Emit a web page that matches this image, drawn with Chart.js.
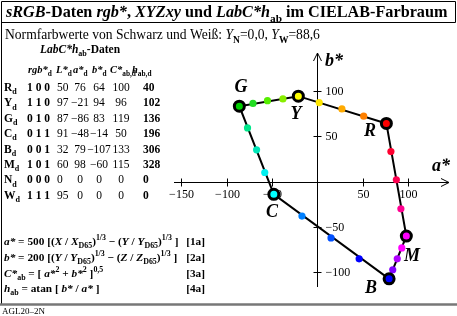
<!DOCTYPE html>
<html><head><meta charset="utf-8">
<script src="https://cdn.jsdelivr.net/npm/chart.js@4.4.0/dist/chart.umd.min.js"></script>
<style>html,body{margin:0;padding:0;background:#fff;overflow:hidden}#wrap{position:relative;width:457px;height:316px}canvas{display:block}</style>
</head><body><div id="wrap"><canvas id="c" width="457" height="316"></canvas></div>
<script>
// ---- data ----
const rowNames = ['R','Y','G','C','B','M','N','W'];
const rowRGB = ['1 0 0','1 1 0','0 1 0','0 1 1','0 0 1','1 0 1','0 0 0','1 1 1'];
const rowL = [50,97,87,91,32,60,0,95];
const rowA = [76,-21,-86,-48,79,98,0,0];
const rowB = [64,94,83,-14,-107,-60,0,0];
const rowC = [100,96,119,50,133,115,0,0];
const rowH = [40,102,136,196,306,328,0,0];

const cornerNames = ['R','Y','G','C','B','M'];
const cornerA = [76,-21,-86,-48,79,98];
const cornerB = [64,94,83,-14,-107,-60];
const cornerColors = ['#ff0000','#ffff00','#00d000','#00ffff','#0000ff','#ff00ff'];

const stepA = [51,27,2, -38,-55,-71, -77,-67,-58, -17,15,46, 83,88,93, 92,87,81];
const stepB = [72,80,87, 91,89,86, 59,35,10, -38,-62,-85, -97,-85,-73, -30,2,33];
const stepColors = ['#ff8000','#ffaa00','#ffe600', '#88ee00','#55ee00','#22dd22',
  '#00e68a','#00e6b8','#00f0f0', '#0080ff','#0050ff','#0000ff',
  '#8000ff','#b000ff','#ff00ff', '#ff0090','#ff0050','#ff0030'];

const aTicks = [-150,-100,-50,50,100];
const bTicks = [100,50,-50,-100];

// ---- helpers ----
const SERIF = '"Liberation Serif","Times New Roman",serif';
function font(size, st){ return (st.includes('i')?'italic ':'')+(st.includes('b')?'bold ':'')+size+'px '+SERIF; }
function rich(ctx, x, y, runs, size){
  ctx.textBaseline='alphabetic'; ctx.textAlign='left';
  for(const [t, st] of runs){
    let s=size, dy=0;
    if(st.includes('sub')){ s=size*0.7; dy=size*0.28; }
    if(st.includes('sup')){ s=size*0.7; dy=-size*0.42; }
    ctx.font=font(s, st); ctx.fillText(t, x, y+dy); x+=ctx.measureText(t).width;
  }
  return x;
}
function fmt(v){ return v<0 ? '\u2212'+(-v) : String(v); }

const pts = (A,B)=>A.map((a,i)=>({x:a,y:B[i]}));
const poly = pts(cornerA, cornerB); poly.push({x:cornerA[0], y:cornerB[0]});

const deco = {
  id:'deco',
  beforeDatasetsDraw(chart){
    const ctx=chart.ctx; ctx.save();
    ctx.fillStyle='#000'; ctx.strokeStyle='#000';
    // frame
    ctx.lineWidth=1;
    ctx.beginPath();
    ctx.moveTo(1.5,304); ctx.lineTo(1.5,1.5); ctx.lineTo(455.5,1.5); ctx.lineTo(455.5,22.5); ctx.lineTo(1.5,22.5);
    ctx.stroke();
    ctx.strokeStyle='#777'; ctx.lineWidth=2.5;
    ctx.beginPath(); ctx.moveTo(0,304.5); ctx.lineTo(457,304.5); ctx.stroke();
    ctx.strokeStyle='#000'; ctx.lineWidth=1;
    // title
    rich(ctx, 6, 17, [['sRGB','bi'],['-Daten ','b'],['rgb*','bi'],[', ','b'],['XYZxy','bi'],[' und ','b'],['LabC*h','bi'],['ab','b sub'],[' im CIELAB-Farbraum','b']], 16.2);
    rich(ctx, 5, 39, [['Normfarbwerte von Schwarz und Wei\u00df: ',''],['Y','i'],['N','sub'],['=0,0, ',''],['Y','i'],['W','sub'],['=88,6','']], 13.6);
    rich(ctx, 40, 53, [['LabC*h','bi'],['ab','b sub'],['-Daten','b']], 11.5);
    // table header
    const hy=73, fs=11.5, hs=10.5;
    rich(ctx, 28, hy, [['rgb*','bi'],['d','b sub']], hs);
    rich(ctx, 56, hy, [['L*','bi'],['d','b sub']], hs);
    rich(ctx, 73, hy, [['a*','bi'],['d','b sub']], hs);
    rich(ctx, 92, hy, [['b*','bi'],['d','b sub']], hs);
    rich(ctx, 110, hy, [['C*','bi'],['ab,d','b sub']], hs);
    rich(ctx, 132, hy, [['h','bi'],['ab,d','b sub']], hs);
    for(let i=0;i<rowNames.length;i++){
      const y=91+i*15.4;
      rich(ctx, 4, y, [[rowNames[i],'b'],['d','b sub']], fs);
      rich(ctx, 27, y, [[rowRGB[i],'b']], fs);
      ctx.font=font(fs,''); ctx.textAlign='left'; ctx.fillText(fmt(rowL[i]), 57, y);
      ctx.textAlign='center';
      ctx.fillText(fmt(rowA[i]), 80, y);
      ctx.fillText(fmt(rowB[i]), 99, y);
      ctx.fillText(fmt(rowC[i]), 121, y);
      ctx.textAlign='left'; ctx.font=font(fs,'b'); ctx.fillText(fmt(rowH[i]), 143, y);
    }
    // formulas
    const ff=11.3;
    const F=[
      [['a*','bi'],[' = 500 [(','b'],['X','bi'],[' / ','b'],['X','bi'],['D65','b sub'],[')','b'],['1/3','b sup'],[' \u2212 (','b'],['Y','bi'],[' / ','b'],['Y','bi'],['D65','b sub'],[')','b'],['1/3','b sup'],[' ]','b']],
      [['b*','bi'],[' = 200 [(','b'],['Y','bi'],[' / ','b'],['Y','bi'],['D65','b sub'],[')','b'],['1/3','b sup'],[' \u2212 (','b'],['Z','bi'],[' / ','b'],['Z','bi'],['D65','b sub'],[')','b'],['1/3','b sup'],[' ]','b']],
      [['C*','bi'],['ab','b sub'],[' = [ ','b'],['a*','bi'],['2','b sup'],[' + ','b'],['b*','bi'],['2','b sup'],[' ]','b'],['0,5','b sup']],
      [['h','bi'],['ab','b sub'],[' = atan [ ','b'],['b*','bi'],[' / ','b'],['a*','bi'],[' ]','b']]
    ];
    const tags=['[1a]','[2a]','[3a]','[4a]'];
    const fy=[245,261,277,292];
    F.forEach((r,i)=>{ rich(ctx,4,fy[i],r,ff); ctx.font=font(ff,'b'); ctx.textAlign='right'; ctx.fillText(tags[i],205,fy[i]); ctx.textAlign='left'; });
    ctx.font='9px '+SERIF; ctx.fillText('AGL20\u20132N', 2, 314);

    // axes
    const xs=chart.scales.x, ys=chart.scales.y;
    const x0=Math.round(xs.getPixelForValue(0))+0.5, y0=Math.round(ys.getPixelForValue(0))+0.5;
    const L=xs.getPixelForValue(xs.min), R=xs.getPixelForValue(xs.max);
    const T=ys.getPixelForValue(ys.max), B=ys.getPixelForValue(ys.min);
    ctx.lineWidth=1; ctx.strokeStyle='#000';
    ctx.beginPath(); ctx.moveTo(L,y0); ctx.lineTo(R,y0);
    ctx.moveTo(R-8,y0-4); ctx.lineTo(R,y0); ctx.lineTo(R-8,y0+4);
    ctx.moveTo(x0,B); ctx.lineTo(x0,T);
    ctx.moveTo(x0-4,T+8); ctx.lineTo(x0,T); ctx.lineTo(x0+4,T+8);
    ctx.stroke();
    ctx.font='12px '+SERIF; ctx.textBaseline='middle';
    aTicks.forEach(v=>{ const p=Math.round(xs.getPixelForValue(v))+0.5;
      ctx.beginPath(); ctx.moveTo(p,y0-4); ctx.lineTo(p,y0+4); ctx.stroke();
      ctx.textAlign='center'; ctx.fillText(fmt(v), p, y0+12); });
    bTicks.forEach(v=>{ const p=Math.round(ys.getPixelForValue(v))+0.5;
      ctx.beginPath(); ctx.moveTo(x0-4,p); ctx.lineTo(x0+4,p); ctx.stroke();
      ctx.textAlign='left'; ctx.fillText(fmt(v), x0+8, p); });
    ctx.textBaseline='middle'; ctx.textAlign='center';
    ctx.font=font(18,'bi');
    ctx.fillText('a*', 441, 166);
    ctx.fillText('b*', 334, 61);
    ctx.restore();
  },
  afterDatasetsDraw(chart){
    const ctx=chart.ctx; ctx.save();
    ctx.fillStyle='#000'; ctx.font=font(18,'bi'); ctx.textAlign='center'; ctx.textBaseline='middle';
    const lp={R:[370,131],Y:[296,114],G:[241,87],C:[272,212],B:[371,288],M:[412,256]};
    cornerNames.forEach(n=>ctx.fillText(n, lp[n][0], lp[n][1]));
    ctx.restore();
  }
};

new Chart(document.getElementById('c'), {
  type:'scatter',
  data:{ datasets:[
    { data: pts(cornerA, cornerB), pointRadius:5, pointBorderWidth:3, pointBorderColor:'#000', pointBackgroundColor:cornerColors, showLine:false, clip:false },
    { data: pts(stepA, stepB), pointRadius:3.6, pointBorderWidth:0, pointBackgroundColor:stepColors, showLine:false, clip:false },
    { data: poly, showLine:true, borderColor:'#000', borderWidth:2, pointRadius:0, clip:false, tension:0 }
  ]},
  options:{
    responsive:false, animation:false, events:[],
    layout:{ padding:{ left:174, right:7, top:53, bottom:29 } },
    plugins:{ legend:{display:false}, tooltip:{enabled:false} },
    scales:{
      x:{ type:'linear', min:-158, max:145, display:false },
      y:{ type:'linear', min:-116, max:141.5, display:false }
    }
  },
  plugins:[deco]
});
</script></body></html>
